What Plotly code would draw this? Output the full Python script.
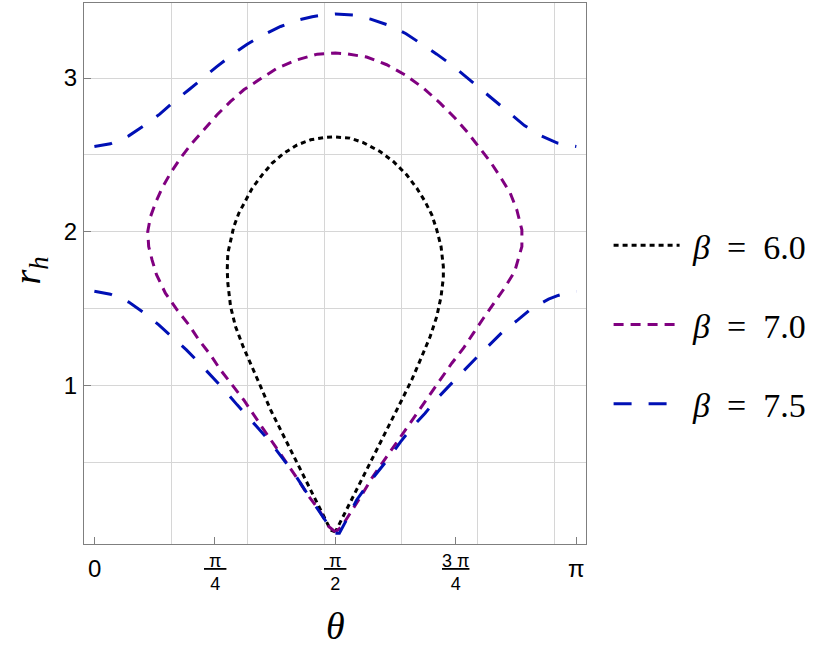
import math
import plotly.graph_objects as go

PI = math.pi

# ---------------- data ----------------
beta_values = ["6.0", "7.0", "7.5"]

theta_b60 = [1.571, 1.540, 1.475, 1.410, 1.345, 1.279, 1.214, 1.149, 1.084, 1.018, 0.970, 0.920,
             0.888, 0.870, 0.866, 0.870, 0.888, 0.909, 0.942, 0.986, 1.029, 1.094, 1.159, 1.236,
             1.322, 1.410, 1.497, 1.571, 1.666, 1.753, 1.862, 1.949, 2.036, 2.102, 2.156, 2.200,
             2.232, 2.260, 2.275, 2.275, 2.260, 2.232, 2.189, 2.134, 2.069, 2.004, 1.939, 1.862,
             1.797, 1.732, 1.666, 1.601, 1.571]
r_b60 = [0.045, 0.057, 0.188, 0.318, 0.448, 0.578, 0.709, 0.839, 0.991, 1.143, 1.251, 1.382,
         1.512, 1.664, 1.751, 1.860, 1.947, 2.033, 2.121, 2.207, 2.283, 2.370, 2.446, 2.511,
         2.565, 2.598, 2.613, 2.617, 2.609, 2.580, 2.522, 2.457, 2.370, 2.283, 2.196, 2.109,
         2.012, 1.903, 1.773, 1.700, 1.577, 1.447, 1.317, 1.186, 1.035, 0.904, 0.774, 0.622,
         0.492, 0.362, 0.231, 0.101, 0.045]

theta_b70 = [1.571, 1.529, 1.464, 1.399, 1.322, 1.257, 1.181, 1.105, 1.040, 0.974, 0.898, 0.822,
             0.757, 0.681, 0.616, 0.539, 0.463, 0.405, 0.376, 0.354, 0.348, 0.366, 0.398, 0.441,
             0.496, 0.561, 0.637, 0.713, 0.800, 0.888, 0.974, 1.083, 1.192, 1.322, 1.453, 1.571,
             1.645, 1.775, 1.906, 2.025, 2.145, 2.254, 2.352, 2.428, 2.504, 2.580, 2.645, 2.711,
             2.754, 2.787, 2.787, 2.760, 2.740, 2.672, 2.602, 2.536, 2.471, 2.406, 2.330, 2.254,
             2.189, 2.112, 2.036, 1.960, 1.884, 1.808, 1.743, 1.677, 1.612, 1.571]
r_b70 = [0.045, 0.079, 0.188, 0.274, 0.394, 0.492, 0.600, 0.709, 0.807, 0.904, 1.002, 1.100,
         1.197, 1.295, 1.393, 1.491, 1.599, 1.720, 1.816, 1.903, 2.001, 2.098, 2.186, 2.283,
         2.381, 2.479, 2.577, 2.663, 2.761, 2.848, 2.924, 2.995, 3.065, 3.119, 3.156, 3.163,
         3.158, 3.137, 3.087, 3.021, 2.935, 2.837, 2.739, 2.652, 2.554, 2.457, 2.359, 2.251,
         2.142, 2.012, 1.903, 1.816, 1.740, 1.630, 1.534, 1.436, 1.339, 1.241, 1.143, 1.035,
         0.937, 0.828, 0.720, 0.611, 0.502, 0.394, 0.285, 0.177, 0.079, 0.045]

theta_b75_upper = [0.000, 0.104, 0.224, 0.322, 0.426, 0.513, 0.616, 0.702, 0.800, 0.898, 0.996,
                   1.094, 1.214, 1.316, 1.420, 1.501, 1.571, 1.688, 1.801, 1.927, 2.032, 2.134,
                   2.232, 2.337, 2.428, 2.526, 2.617, 2.711, 2.804, 2.911, 3.019, 3.142]
r_b75_upper = [2.555, 2.572, 2.624, 2.689, 2.765, 2.841, 2.924, 2.997, 3.076, 3.152, 3.221,
               3.278, 3.336, 3.375, 3.400, 3.412, 3.418, 3.410, 3.384, 3.341, 3.289, 3.221,
               3.156, 3.080, 3.004, 2.924, 2.848, 2.765, 2.691, 2.624, 2.577, 2.555]

theta_b75_lower = [0.000, 0.104, 0.224, 0.322, 0.420, 0.507, 0.600, 0.681, 0.768, 0.848, 0.931,
                   1.012, 1.094, 1.170, 1.247, 1.316, 1.384, 1.449, 1.518, 1.545, 1.571, 1.597,
                   1.655, 1.710, 1.779, 1.851, 1.927, 1.997, 2.076, 2.156, 2.236, 2.319, 2.406,
                   2.487, 2.576, 2.663, 2.761, 2.852, 2.961, 3.015, 3.070, 3.142]
r_b75_lower = [1.612, 1.593, 1.541, 1.473, 1.393, 1.317, 1.230, 1.147, 1.056, 0.969, 0.872,
               0.785, 0.691, 0.600, 0.496, 0.405, 0.300, 0.205, 0.101, 0.036, 0.036, 0.036,
               0.144, 0.253, 0.350, 0.437, 0.535, 0.633, 0.730, 0.818, 0.915, 1.002, 1.095,
               1.176, 1.263, 1.349, 1.425, 1.502, 1.560, 1.582, 1.599, 1.612]

x_tick_vals = [0, PI / 4, PI / 2, 3 * PI / 4, PI]
x_tick_text = ["0", "<u>&nbsp;π&nbsp;</u><br>4", "<u>&nbsp;π&nbsp;</u><br>2",
               "<u>3 π</u><br>4", "π"]
y_tick_vals = [1, 2, 3]
x_grid_vals = [0.5, 1.0, 1.5, 2.0, 2.5, 3.0]
y_grid_vals = [0.5, 1.5, 2.5]

# ---------------- figure ----------------
SERIF = "Liberation Serif"
SANS = "Liberation Sans"
GRID = "#d6d6d6"
FRAME = "#7f7f7f"
X_RANGE = [-0.0677, 3.205]


def legend_label(v):
    return "&nbsp;<i>β</i>&nbsp;&nbsp;=&nbsp;&nbsp;" + v


fig = go.Figure()

fig.add_trace(go.Scatter(
    x=theta_b60, y=r_b60, mode="lines", name=legend_label(beta_values[0]), legendgroup="a",
    line=dict(color="#000000", width=3, dash="5px,4px")))
fig.add_trace(go.Scatter(
    x=theta_b70, y=r_b70, mode="lines", name=legend_label(beta_values[1]), legendgroup="b",
    line=dict(color="#800080", width=3, dash="10px,7px")))
fig.add_trace(go.Scatter(
    x=theta_b75_upper + [None] + theta_b75_lower,
    y=r_b75_upper + [None] + r_b75_lower,
    mode="lines", name=legend_label(beta_values[2]), legendgroup="c", connectgaps=False,
    line=dict(color="#0010b5", width=3, dash="18px,17px")))

annotations = []
for v, t in zip(x_tick_vals, x_tick_text):
    big = t in ("0", "π")
    annotations.append(dict(
        x=v, xref="x", y=-0.045 if big else -0.052, yref="paper", text=t, showarrow=False,
        xanchor="center", yanchor="middle",
        font=dict(family=SANS, size=24 if big else 18, color="black")))

annotations.append(dict(
    x=PI / 2, xref="x", y=-0.152, yref="paper",
    text="<i>θ</i>", showarrow=False, xanchor="center", yanchor="middle",
    font=dict(family=SERIF, size=38, color="black")))
annotations.append(dict(
    x=-0.108, xref="paper", y=0.505, yref="paper",
    text="<i>r</i><sub><i>h</i></sub>", showarrow=False, textangle=-90,
    xanchor="center", yanchor="middle",
    font=dict(family=SERIF, size=38, color="black")))

fig.update_layout(
    width=830, height=659,
    margin=dict(l=84, r=244, t=3, b=115),
    paper_bgcolor="white", plot_bgcolor="white",
    showlegend=True,
    legend=dict(
        x=1.045, xanchor="left", y=0.605, yanchor="top",
        font=dict(family=SERIF, size=34, color="black"),
        tracegroupgap=32, itemwidth=66, bgcolor="rgba(0,0,0,0)"),
    annotations=annotations,
    xaxis=dict(
        range=X_RANGE, tickvals=x_tick_vals, showticklabels=False,
        ticks="inside", ticklen=7, tickcolor=FRAME, tickwidth=1,
        showgrid=False, zeroline=False,
        showline=True, linecolor=FRAME, linewidth=1.2, mirror=True,
        minor=dict(tickvals=x_grid_vals, showgrid=True, gridcolor=GRID, gridwidth=1, ticks="")),
    yaxis=dict(
        range=[-0.034, 3.489], tickvals=y_tick_vals,
        tickfont=dict(family=SANS, size=24, color="black"),
        ticks="inside", ticklen=7, tickcolor=FRAME, tickwidth=1, ticklabelstandoff=1,
        showgrid=True, gridcolor=GRID, gridwidth=1, zeroline=False,
        showline=True, linecolor=FRAME, linewidth=1.2, mirror=True,
        minor=dict(tickvals=y_grid_vals, showgrid=True, gridcolor=GRID, gridwidth=1, ticks="")),
)

fig.write_html("out.html",
               config={"displayModeBar": False},
               post_script="document.body.style.margin='0';document.body.style.overflow='hidden';")
